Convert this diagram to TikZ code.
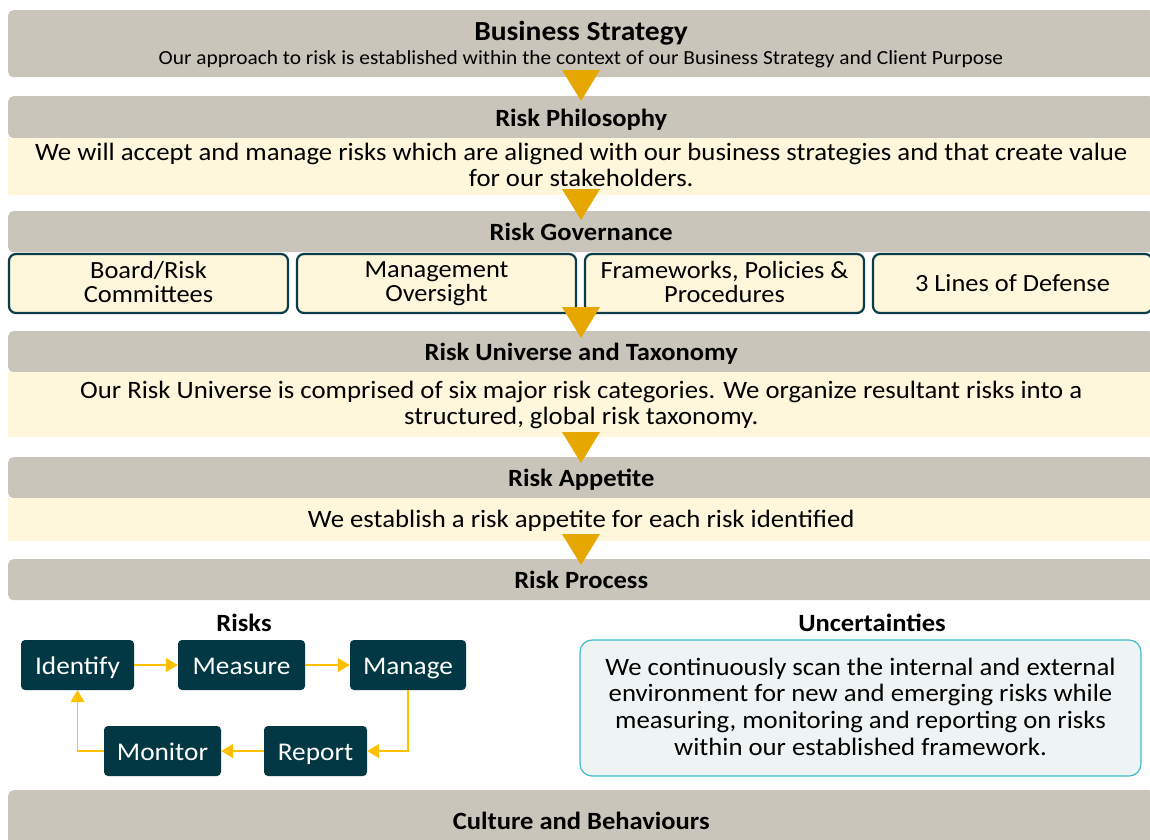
\documentclass[tikz,border=0pt]{standalone}
\usepackage{fontspec}
\setmainfont[FakeStretch=1.07]{Carlito}
\usetikzlibrary{arrows.meta,calc}
\definecolor{bandgray}{HTML}{C9C5BA}
\definecolor{creamfill}{HTML}{FEF7DC}
\definecolor{trigold}{HTML}{E6A800}
\definecolor{flowgold}{HTML}{FFC000}
\definecolor{deepteal}{HTML}{023843}
\definecolor{edgeteal}{HTML}{0D3B47}
\definecolor{cyanline}{HTML}{3DBCC6}
\definecolor{mistfill}{HTML}{EEF3F3}
\newcommand{\fsz}[2]{\fontsize{#1}{#2}\selectfont}
\newcommand{\lnstrut}{\vrule width0pt height0.75em depth0.12em}
\tikzset{%
  struts/.style  = {execute at begin node=\lnstrut, execute at end node=\lnstrut},%
  header/.style  = {fill=bandgray, rounded corners=5pt, anchor=north west,%
                    minimum width=1146pt, inner sep=0pt,%
                    text height=18pt, text depth=0pt,%
                    font=\fsz{24.8}{30}\bfseries},%
  bodyband/.style = {fill=creamfill, anchor=north west, align=center,%
                    minimum width=1146pt, inner sep=0pt, struts,%
                    font=\fsz{25}{26}},%
  govbox/.style  = {draw=edgeteal, line width=2.2pt, fill=creamfill,%
                    rounded corners=7pt, align=center, inner sep=0pt,%
                    minimum width=279pt, minimum height=59pt, struts,%
                    font=\fsz{24.7}{24}},%
  stepbox/.style = {fill=deepteal, text=white, rounded corners=4pt,%
                    minimum height=50pt, inner sep=0pt,%
                    text height=20pt, text depth=2pt, font=\fsz{25.5}{30}},%
  flow/.style    = {draw=flowgold, line width=1.4pt,%
                    -{Triangle[length=12pt,width=14pt]}},%
  subhead/.style = {font=\fsz{24.8}{28}\bfseries}%
}

\begin{document}
\begin{tikzpicture}[x=1pt,y=-1pt]
\useasboundingbox (0,0) rectangle (1150,839);
\clip (0,0) rectangle (1150,839);
	% stacked bands
	\node[header, minimum height=67pt] (strat) at (8,10) {};
	\node[font=\fsz{27.6}{30}\bfseries] (strattitle) at (581,33) {Business Strategy};
	\node[font=\fsz{20}{22}] (stratsub) at (581,59) {Our approach to risk is established within the context of our Business Strategy and Client Purpose};
	\node[header, minimum height=42pt] (phil) at (8,96) {Risk Philosophy};
	\node[bodyband, minimum height=57pt] (philtxt) at (8,138)
		{We will accept and manage risks which are aligned with our business strategies and that create value\\for our stakeholders.};
	\node[header, minimum height=41pt] (gov) at (8,211) {Risk Governance};
	\node[govbox] (board) at (148.5,283.5) {Board/Risk\\Committees};
	\node[govbox] (mgmt) at (436.5,283.5) {Management\\Oversight};
	\node[govbox] (fpp) at (724.5,283.5) {Frameworks, Policies \&\\Procedures};
	\node[govbox] (lines) at (1012.5,283.5) {3 Lines of Defense};
	\node[header, minimum height=41pt] (univ) at (8,331) {Risk Universe and Taxonomy};
	\node[bodyband, minimum height=65pt] (univtxt) at (8,372)
		{Our Risk Universe is comprised of six major risk categories. We organize resultant risks into a\\structured, global risk taxonomy.};
	\node[header, minimum height=41pt] (appt) at (8,457) {Risk Appetite};
	\node[bodyband, minimum height=43pt] (appttxt) at (8,498) {We establish a risk appetite for each risk identified};
	\node[header, minimum height=41pt] (proc) at (8,559) {Risk Process};
	\node[header, minimum height=60pt] (cult) at (8,790) {Culture and Behaviours};
	% gold pointers between the bands
	\foreach \t in {70,189,307,432,534}
		\fill[trigold] (562,\t) -- (600,\t) -- (581,\t+31) -- cycle;
	% risk cycle
	\node[subhead] (risks) at (244,623) {Risks};
	\node[stepbox, minimum width=113pt] (idf) at (77.5,665) {Identify};
	\node[stepbox, minimum width=127pt] (meas) at (241.5,665) {Measure};
	\node[stepbox, minimum width=116pt] (mng) at (408,665) {Manage};
	\node[stepbox, minimum width=103pt] (rep) at (315.5,751) {Report};
	\node[stepbox, minimum width=117pt] (mon) at (162.5,751) {Monitor};
	\draw[flow] (idf) -- (meas);
	\draw[flow] (meas) -- (mng);
	\draw[flow] (mng.south) |- (rep.east);
	\draw[flow] (rep) -- (mon);
	\draw[flow] (mon.west) -| (idf.south);
	% uncertainties
	\node[subhead] (uncert) at (872,623) {Uncertainties};
	\node[draw=cyanline, line width=1.2pt, fill=mistfill, rounded corners=12pt,%
		minimum width=561pt, minimum height=136pt, align=center, inner sep=0pt,%
		struts, font=\fsz{25}{26.7}] (scan) at (860.5,708)
		{We continuously scan the internal and external\\environment for new and emerging risks while\\measuring, monitoring and reporting on risks\\within our established framework.};
\end{tikzpicture}
\end{document}
